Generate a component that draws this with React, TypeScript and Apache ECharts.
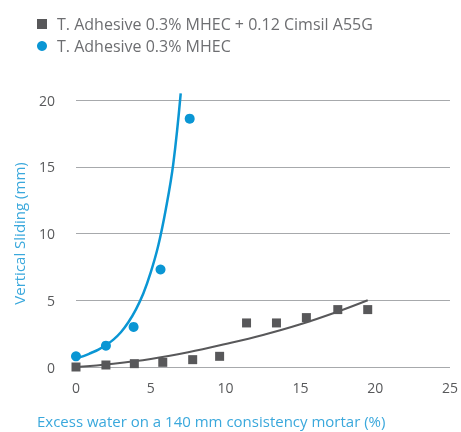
import React, { useEffect, useRef } from "react";
import * as echarts from "echarts";

const grayName = "T. Adhesive 0.3% MHEC + 0.12 Cimsil A55G";
const blueName = "T. Adhesive 0.3% MHEC";

const grayX = [0, 2, 3.9, 5.8, 7.8, 9.6, 11.4, 13.4, 15.4, 17.5, 19.5];
const grayY = [0, 0.15, 0.25, 0.35, 0.55, 0.8, 3.3, 3.3, 3.7, 4.3, 4.3];
const blueX = [0, 2, 3.85, 5.65, 7.6];
const blueY = [0.8, 1.6, 3.0, 7.3, 18.6];

const grayTrendX = [0, 2.5, 5, 7.5, 10, 12.5, 15, 17.5, 19.5];
const grayTrendY = [0, 0.25, 0.6, 1.1, 1.72, 2.4, 3.2, 4.15, 5.0];
const blueTrendX = [0, 0.5, 1, 1.5, 2, 2.5, 3, 3.5, 4, 4.5, 5, 5.5, 6, 6.5, 7];
const blueTrendY = [0.65, 0.82, 1.05, 1.3, 1.65, 2.05, 2.6, 3.35, 4.3, 5.5, 7.1, 9.1, 11.8, 15.2, 20.5];

const xTicks = [0, 5, 10, 15, 20, 25];
const yTicks = [0, 5, 10, 15, 20];

const GRAY = "#58585a";
const BLUE = "#0a96d4";
const TITLE_BLUE = "#3aa8dc";
const FONT = "'Open Sans', 'Noto Sans', sans-serif";

const pairs = (xs: number[], ys: number[]) => xs.map((x, i) => [x, ys[i]]);

export default function App() {
  const ref = useRef<HTMLDivElement>(null);
  useEffect(() => {
    if (!ref.current) return;
    const chart = echarts.init(ref.current, undefined, { renderer: "svg" });
    chart.setOption({
      animation: false,
      textStyle: { fontFamily: FONT },
      legend: {
        orient: "vertical",
        left: 32,
        top: 11,
        itemWidth: 10,
        itemHeight: 10,
        itemGap: 6,
        data: [grayName, blueName],
        textStyle: {
          fontSize: 16,
          color: "#6d6e71",
          fontFamily: FONT,
          padding: [0, 0, 0, 5],
        },
      },
      grid: { left: 76, right: 6, top: 100, bottom: 65 },
      xAxis: {
        type: "value",
        min: xTicks[0],
        max: xTicks[xTicks.length - 1],
        interval: 5,
        axisLine: { show: false },
        axisTick: { show: false },
        splitLine: { show: false },
        axisLabel: { color: "#58595b", fontSize: 14, margin: 13, fontFamily: FONT },
      },
      yAxis: {
        type: "value",
        min: yTicks[0],
        max: yTicks[yTicks.length - 1],
        interval: 5,
        name: "Vertical Sliding (mm)",
        nameLocation: "middle",
        nameGap: 50,
        nameTextStyle: { color: TITLE_BLUE, fontSize: 15, fontFamily: FONT },
        axisLine: { show: false },
        axisTick: { show: false },
        splitLine: { lineStyle: { color: "#a7a9ac", width: 1 } },
        axisLabel: { color: "#58595b", fontSize: 14, margin: 21, fontFamily: FONT },
      },
      graphic: [
        {
          type: "text",
          left: 37,
          top: 413,
          style: {
            text: "Excess water on a 140 mm consistency mortar (%)",
            fill: TITLE_BLUE,
            fontSize: 15,
            fontFamily: FONT,
          },
        },
      ],
      series: [
        {
          name: grayName,
          type: "scatter",
          symbol: "rect",
          symbolSize: 9,
          itemStyle: { color: GRAY, opacity: 1 },
          data: pairs(grayX, grayY),
          z: 3,
        },
        {
          name: blueName,
          type: "scatter",
          symbol: "circle",
          symbolSize: 10,
          itemStyle: { color: BLUE, opacity: 1 },
          data: pairs(blueX, blueY),
          z: 3,
        },
        {
          name: "gray trend",
          type: "line",
          smooth: 0.4,
          showSymbol: false,
          symbol: "none",
          lineStyle: { color: GRAY, width: 2 },
          data: pairs(grayTrendX, grayTrendY),
          z: 2,
        },
        {
          name: "blue trend",
          type: "line",
          smooth: 0.4,
          clip: false,
          showSymbol: false,
          symbol: "none",
          lineStyle: { color: BLUE, width: 2.5 },
          data: pairs(blueTrendX, blueTrendY),
          z: 2,
        },
      ],
    });
    return () => chart.dispose();
  }, []);
  return (
    <div
      ref={ref}
      style={{ position: "fixed", left: 0, top: 0, width: 461, height: 432 }}
    />
  );
}
